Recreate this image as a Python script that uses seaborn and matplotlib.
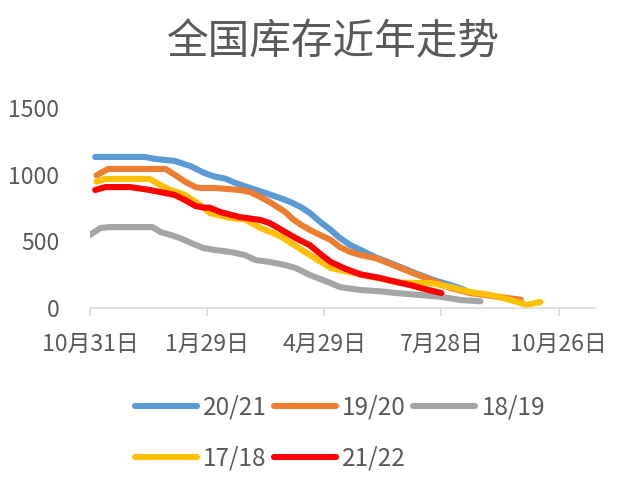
import matplotlib
matplotlib.use("Agg")
import matplotlib.pyplot as plt
import seaborn as sns
import pandas as pd
from matplotlib.lines import Line2D

# ---- data (days after Oct 31, inventory) ----
tick_days = [0, 90, 180, 270, 360]
tick_labels = ["10月31日", "1月29日", "4月29日", "7月28日", "10月26日"]

s2021_days = [4, 42, 50, 65, 77, 88, 96, 104, 112, 123, 135, 146, 154, 162, 169, 177, 185, 192, 200, 208, 219, 231, 246, 262, 269, 277, 288]
s2021_vals = [1133, 1133, 1118, 1103, 1065, 1012, 985, 970, 937, 900, 862, 825, 795, 757, 712, 645, 585, 525, 472, 435, 382, 337, 277, 217, 195, 172, 135]

s1920_days = [5, 14, 58, 65, 73, 81, 85, 96, 115, 123, 131, 138, 150, 156, 162, 169, 177, 185, 192, 200, 208, 219, 231, 246, 262, 277, 292, 315, 331]
s1920_vals = [995, 1043, 1043, 1000, 948, 907, 900, 900, 885, 870, 832, 795, 720, 665, 625, 585, 547, 510, 457, 420, 397, 375, 330, 270, 210, 150, 112, 82, 62]

s1819_days = [0, 8, 15, 48, 54, 62, 69, 77, 87, 96, 108, 119, 127, 138, 150, 158, 169, 185, 192, 208, 223, 238, 254, 269, 285, 300]
s1819_vals = [548, 600, 607, 607, 570, 548, 525, 490, 450, 435, 420, 397, 360, 345, 322, 300, 247, 187, 157, 135, 125, 110, 97, 85, 60, 50]

s1718_days = [5, 12, 46, 54, 62, 69, 73, 85, 92, 108, 119, 131, 146, 162, 185, 208, 238, 262, 277, 292, 308, 323, 331, 335, 342, 346]
s1718_vals = [948, 968, 968, 922, 885, 862, 848, 770, 712, 675, 665, 600, 540, 440, 300, 250, 190, 187, 157, 120, 97, 60, 37, 22, 37, 45]

s2122_days = [4, 12, 31, 46, 58, 65, 73, 81, 88, 92, 100, 115, 131, 138, 150, 158, 169, 177, 185, 196, 208, 223, 231, 246, 254, 270]
s2122_vals = [885, 907, 907, 885, 862, 848, 810, 765, 752, 752, 720, 682, 660, 637, 570, 525, 470, 405, 345, 295, 252, 225, 205, 172, 150, 112]

series_names = ["20/21", "19/20", "18/19", "17/18", "21/22"]
series_colors = ["#5B9BD5", "#ED7D31", "#A5A5A5", "#FFC000", "#FF0000"]

# ---- build long table ----
rows = []
for name, d, v in zip(series_names,
                      [s2021_days, s1920_days, s1819_days, s1718_days, s2122_days],
                      [s2021_vals, s1920_vals, s1819_vals, s1718_vals, s2122_vals]):
    for di, vi in zip(d, v):
        rows.append({"day": di, "value": vi, "season": name})
df = pd.DataFrame(rows)

sns.set_style("white")
plt.rcParams["font.family"] = ["Noto Sans CJK SC", "DejaVu Sans"]

fig = plt.figure(figsize=(6.3, 4.97), dpi=100)
ax = fig.add_axes([90 / 630, 1 - 308 / 497, 505 / 630, 200 / 497])

palette = dict(zip(series_names, series_colors))
for name in series_names:
    sub = df[df["season"] == name]
    sns.lineplot(data=sub, x="day", y="value", color=palette[name], linewidth=4.4,
                 ax=ax, legend=False, solid_capstyle="round", solid_joinstyle="round",
                 estimator=None, sort=True)

ax.set_xlim(0, 388)
ax.set_ylim(0, 1500)
ax.set_xticks(tick_days)
ax.set_xticklabels(tick_labels)
ax.set_yticks([0, 500, 1000, 1500])
ax.set_yticklabels(["0", "500", "1000", "1500"])
ax.set_xlabel("")
ax.set_ylabel("")

for side in ["top", "right", "left"]:
    ax.spines[side].set_visible(False)
ax.spines["bottom"].set_color("#D9D9D9")
ax.spines["bottom"].set_linewidth(1.2)
ax.tick_params(axis="x", colors="#D9D9D9", length=6, width=1.2, direction="out",
               labelcolor="#595959", labelsize=16.5, pad=12, bottom=True)
ax.tick_params(axis="y", length=0, labelcolor="#595959", labelsize=16.5, pad=22)

fig.text(333 / 630, 1 - 43 / 497, "全国库存近年走势", ha="center", va="center",
         fontsize=30, color="#595959")

handles = {n: Line2D([0], [0], color=c, linewidth=4.4, solid_capstyle="round")
           for n, c in zip(series_names, series_colors)}
order = ["20/21", "17/18", "19/20", "21/22", "18/19"]
leg = fig.legend([handles[n] for n in order], order, loc="center",
                 bbox_to_anchor=(340 / 630, 1 - 433 / 497), ncol=3, frameon=False,
                 fontsize=17.5, handlelength=2.55, handletextpad=0.25,
                 columnspacing=0.3, labelspacing=1.05)
for t in leg.get_texts():
    t.set_color("#595959")

fig.savefig("out.png", dpi=100)
